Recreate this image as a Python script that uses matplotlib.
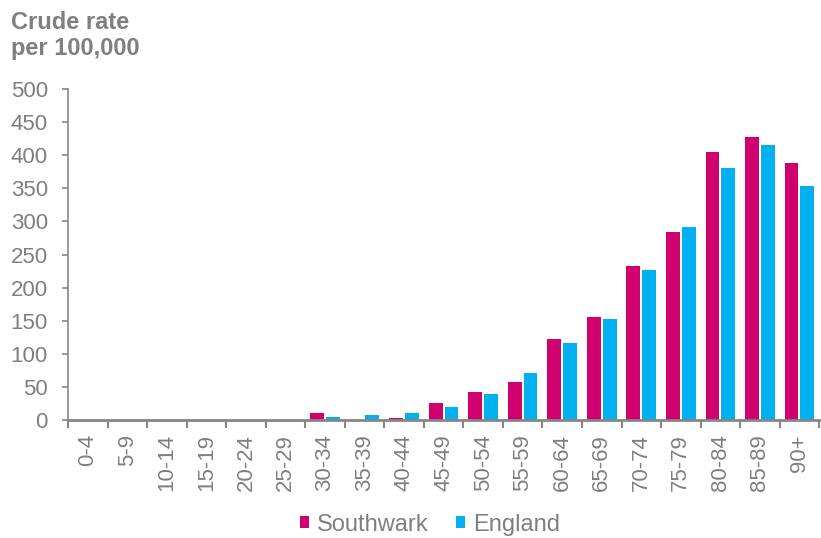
import matplotlib
matplotlib.use("Agg")
import matplotlib.pyplot as plt
import numpy as np

GREY = "#7f7f7f"
AXIS = "#868686"
PINK = "#d0006f"
BLUE = "#00b0f0"

age_groups = ["0-4", "5-9", "10-14", "15-19", "20-24", "25-29", "30-34", "35-39",
              "40-44", "45-49", "50-54", "55-59", "60-64", "65-69", "70-74", "75-79",
              "80-84", "85-89", "90+"]
southwark = [0, 0, 0, 0, 0, 0, 10, 0, 3, 26, 43, 58, 123, 156, 232, 284, 405, 428, 388]
england = [0, 0, 0, 0, 0, 0, 5, 8, 11, 20, 40, 71, 117, 152, 226, 291, 381, 416, 353]

plt.rcParams["font.family"] = ["Liberation Sans", "DejaVu Sans"]

fig = plt.figure(figsize=(8.21, 5.38), dpi=100)
ax = fig.add_axes([0.0828, 0.2193, 0.915, 0.6153])

x = np.arange(len(age_groups))
ax.bar(x - 0.2, southwark, width=0.35, color=PINK, label="Southwark")
ax.bar(x + 0.2, england, width=0.35, color=BLUE, label="England")

ax.set_xlim(-0.5, len(age_groups) - 0.5)
ax.set_ylim(0, 500)
ax.set_yticks(range(0, 501, 50))
ax.tick_params(axis="y", colors=AXIS, labelcolor=GREY, labelsize=16, length=4.5, width=1.2, pad=10)

ax.set_xticks(x)
ax.set_xticklabels(age_groups, rotation=90)
ax.set_xticks(np.arange(-0.5, len(age_groups), 1), minor=True)
ax.tick_params(axis="x", which="major", length=0, labelsize=16, labelcolor=GREY, pad=10)
ax.tick_params(axis="x", which="minor", length=6, width=1.5, color=AXIS)

for side in ["top", "right"]:
    ax.spines[side].set_visible(False)
ax.spines["left"].set_color(AXIS)
ax.spines["bottom"].set_color(AXIS)
ax.spines["left"].set_linewidth(1.2)
ax.spines["bottom"].set_linewidth(2)

fig.text(0.013, 0.98, "Crude rate\nper 100,000", ha="left", va="top",
         fontsize=17, fontweight="bold", color=GREY, linespacing=1.2)

# legend sits right at the bottom edge, as in the source
fig.legend(loc="center", bbox_to_anchor=(0.524, 0.025), ncol=2, frameon=False,
           fontsize=17, labelcolor=GREY, handlelength=0.38, handleheight=0.38,
           handletextpad=0.35, columnspacing=1.15, borderpad=0.1)

fig.savefig("out.png", dpi=100)
